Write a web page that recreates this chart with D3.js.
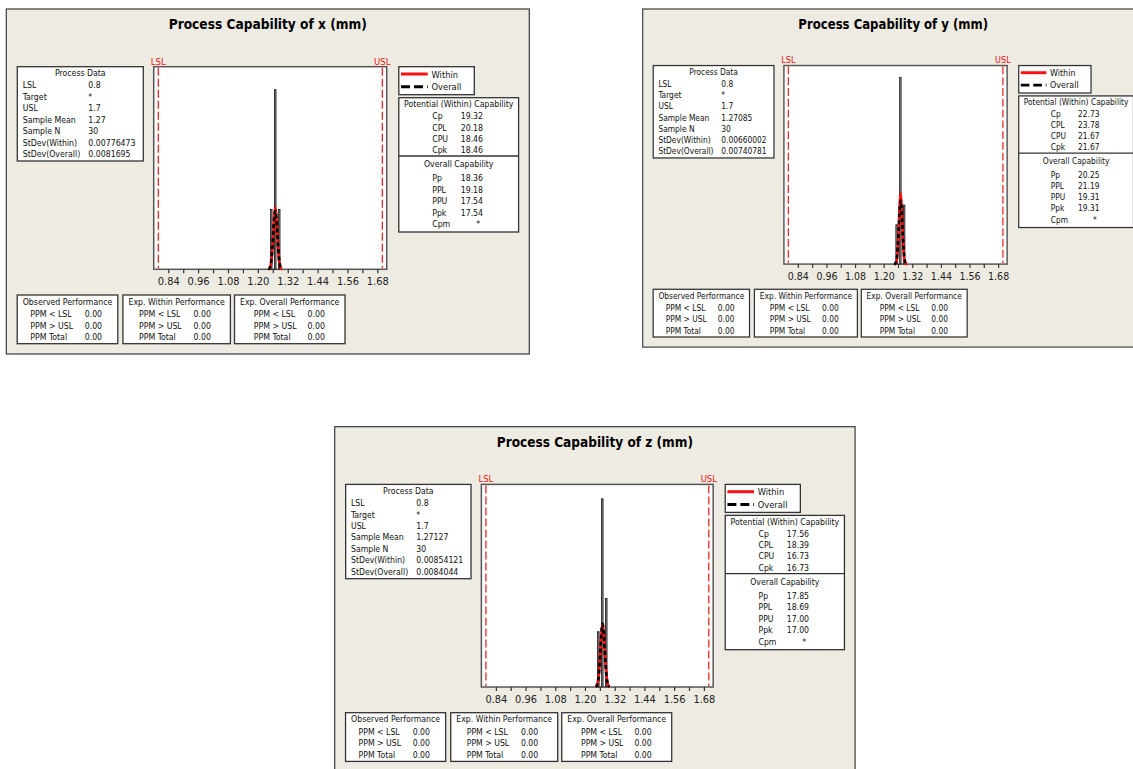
<!DOCTYPE html>
<html><head><meta charset="utf-8">
<script src="https://cdn.jsdelivr.net/npm/d3@7"></script>
<style>
html,body{margin:0;padding:0;background:#fff;}
svg{display:block;}
text{font-family:"DejaVu Sans Condensed","DejaVu Sans",sans-serif;font-stretch:condensed;}
</style></head><body>
<svg id="chart" width="1133" height="769"></svg>
<script>
// ---------------- DATA ----------------
const titles = ["Process Capability of x (mm)", "Process Capability of y (mm)", "Process Capability of z (mm)"];
const specLimits = [0.8, 1.7];
const specLabels = ["LSL", "USL"];
const axisTicks = [0.84, 0.90, 0.96, 1.02, 1.08, 1.14, 1.20, 1.26, 1.32, 1.38, 1.44, 1.50, 1.56, 1.62, 1.68];
const axisTickLabels = [0.84, 0.96, 1.08, 1.20, 1.32, 1.44, 1.56, 1.68];

const binCenters = [1.254, 1.270, 1.286];
const countsX = [6, 18, 6];
const countsY = [4, 19, 6];
const countsZ = [5, 17, 8];
const countAxisMax = [20.3, 20.2, 18.3];

const curveGridX = [1.242, 1.246, 1.250, 1.254, 1.258, 1.262, 1.266, 1.270, 1.274, 1.278, 1.282, 1.286, 1.290, 1.294, 1.298];
const withinCurveX = [0.01, 0.05, 0.22, 0.74, 1.87, 3.63, 5.40, 6.17, 5.40, 3.63, 1.87, 0.74, 0.22, 0.05, 0.01];
const overallCurveX = [0.02, 0.08, 0.29, 0.86, 1.99, 3.63, 5.20, 5.86, 5.20, 3.63, 1.99, 0.86, 0.29, 0.08, 0.02];
const curveGridY = [1.243, 1.247, 1.251, 1.255, 1.259, 1.263, 1.267, 1.271, 1.275, 1.279, 1.283, 1.287, 1.291, 1.295, 1.299];
const withinCurveY = [0.00, 0.01, 0.07, 0.38, 1.39, 3.48, 6.03, 7.25, 6.03, 3.48, 1.39, 0.38, 0.07, 0.01, 0.00];
const overallCurveY = [0.01, 0.03, 0.17, 0.63, 1.74, 3.61, 5.58, 6.46, 5.58, 3.61, 1.74, 0.63, 0.17, 0.03, 0.01];
const curveGridZ = [1.243, 1.247, 1.251, 1.255, 1.259, 1.263, 1.267, 1.271, 1.275, 1.279, 1.283, 1.287, 1.291, 1.295, 1.299];
const withinCurveZ = [0.03, 0.11, 0.36, 0.97, 2.09, 3.62, 5.03, 5.61, 5.03, 3.62, 2.09, 0.97, 0.36, 0.11, 0.03];
const overallCurveZ = [0.02, 0.10, 0.34, 0.93, 2.06, 3.62, 5.09, 5.70, 5.09, 3.62, 2.06, 0.93, 0.34, 0.10, 0.02];

const processLabels = ["LSL", "Target", "USL", "Sample Mean", "Sample N", "StDev(Within)", "StDev(Overall)"];
const processX = ["0.8", "*", "1.7", "1.27", "30", "0.00776473", "0.0081695"];
const processY = ["0.8", "*", "1.7", "1.27085", "30", "0.00660002", "0.00740781"];
const processZ = ["0.8", "*", "1.7", "1.27127", "30", "0.00854121", "0.0084044"];

const potentialLabels = ["Cp", "CPL", "CPU", "Cpk"];
const potentialX = ["19.32", "20.18", "18.46", "18.46"];
const potentialY = ["22.73", "23.78", "21.67", "21.67"];
const potentialZ = ["17.56", "18.39", "16.73", "16.73"];

const overallLabels = ["Pp", "PPL", "PPU", "Ppk", "Cpm"];
const overallX = ["18.36", "19.18", "17.54", "17.54", "*"];
const overallY = ["20.25", "21.19", "19.31", "19.31", "*"];
const overallZ = ["17.85", "18.69", "17.00", "17.00", "*"];

const legendLabels = ["Within", "Overall"];
const perfTitles = ["Observed Performance", "Exp. Within Performance", "Exp. Overall Performance"];
const perfLabels = ["PPM < LSL", "PPM > USL", "PPM Total"];
const perfX = [["0.00", "0.00", "0.00"], ["0.00", "0.00", "0.00"], ["0.00", "0.00", "0.00"]];
const perfY = [["0.00", "0.00", "0.00"], ["0.00", "0.00", "0.00"], ["0.00", "0.00", "0.00"]];
const perfZ = [["0.00", "0.00", "0.00"], ["0.00", "0.00", "0.00"], ["0.00", "0.00", "0.00"]];

// ---------------- LAYOUT ----------------
const panels = [
  {tx: 6.3, ty: 9, sx: 1, sy: 1, counts: countsX, grid: curveGridX, within: withinCurveX, overall: overallCurveX,
   proc: processX, pot: potentialX, ovr: overallX, perf: perfX},
  {tx: 642.7, ty: 9, sx: 0.958, sy: 0.98, counts: countsY, grid: curveGridY, within: withinCurveY, overall: overallCurveY,
   proc: processY, pot: potentialY, ovr: overallY, perf: perfY},
  {tx: 334.7, ty: 426.7, sx: 0.995, sy: 1.0, counts: countsZ, grid: curveGridZ, within: withinCurveZ, overall: overallCurveZ,
   proc: processZ, pot: potentialZ, ovr: overallZ, perf: perfZ}
];
const PW = 523, PH = 345;
const PL = 147.4, PR = 380.4, PT = 57.7, PB = 260.3;
const BG = "#eeebe2";
const FS = 8.7;

const svg = d3.select("#chart");

function txt(g, x, y, s, o = {}) {
  return g.append("text").attr("x", x).attr("y", y).text(s)
    .attr("font-size", o.size || FS)
    .attr("font-weight", o.weight || "normal")
    .attr("fill", o.fill || "#111")
    .attr("text-anchor", o.anchor || "start")
    .attr("dominant-baseline", "central");
}
function box(g, x0, y0, x1, y1) {
  g.append("rect").attr("x", x0).attr("y", y0).attr("width", x1 - x0).attr("height", y1 - y0)
    .attr("fill", "#fff").attr("stroke", "#333").attr("stroke-width", 1.3);
}

panels.forEach((p, i) => {
  const g = svg.append("g").attr("transform", `translate(${p.tx},${p.ty}) scale(${p.sx},${p.sy})`);
  g.append("rect").attr("x", 0).attr("y", 0).attr("width", PW).attr("height", PH)
    .attr("fill", BG).attr("stroke", "#3a3a3a").attr("stroke-width", 1.2);
  g.append("text").attr("x", PW / 2).attr("y", 20.3).text(titles[i])
    .attr("text-anchor", "middle").attr("font-size", 13.6).attr("font-weight", "bold").attr("fill", "#000");

  const x = d3.scaleLinear().domain(specLimits).range([152, 376]);
  const y = d3.scaleLinear().domain([0, countAxisMax[i]]).range([PB, PT]);

  // plot area
  g.append("rect").attr("x", PL).attr("y", PT).attr("width", PR - PL).attr("height", PB - PT)
    .attr("fill", "#fff").attr("stroke", "#555").attr("stroke-width", 1.5);

  // axis
  const labelSet = new Set(axisTickLabels.map(v => v.toFixed(2)));
  const ax = g.append("g").attr("transform", `translate(0,${PB})`)
    .call(d3.axisBottom(x).tickValues(axisTicks).tickSize(4).tickPadding(4)
      .tickFormat(d => labelSet.has(d.toFixed(2)) ? d.toFixed(2) : ""));
  ax.select(".domain").remove();
  ax.selectAll(".tick line").attr("stroke", "#333").attr("stroke-width", 1.2);
  ax.selectAll(".tick text").attr("font-size", 11).attr("fill", "#222")
    .attr("font-family", "'DejaVu Sans Condensed','DejaVu Sans',sans-serif");

  // spec limit lines
  specLimits.forEach((v, k) => {
    g.append("line").attr("x1", x(v)).attr("x2", x(v)).attr("y1", PT + 1).attr("y2", PB - 1)
      .attr("stroke", "#ee1111").attr("stroke-width", 1.2).attr("stroke-dasharray", "8,3");
    txt(g, x(v), 52, specLabels[k], {size: 9.5, anchor: "middle", fill: "#ee1111"});
  });

  // histogram bars
  const bw = 0.006;
  g.selectAll(".bar").data(binCenters.map((c, k) => ({c, n: p.counts[k]}))).enter()
    .append("rect").attr("class", "bar")
    .attr("x", d => x(d.c - bw / 2)).attr("width", d => x(d.c + bw / 2) - x(d.c - bw / 2))
    .attr("y", d => y(d.n)).attr("height", d => y(0) - y(d.n))
    .attr("fill", "#8a8a8a").attr("stroke", "#111").attr("stroke-width", 0.8);

  // fitted curves
  const line = d3.line().x(d => x(d[0])).y(d => y(d[1])).curve(d3.curveMonotoneX);
  g.append("path").datum(p.grid.map((v, k) => [v, p.within[k]])).attr("d", line)
    .attr("fill", "none").attr("stroke", "#ff1010").attr("stroke-width", 2.7);
  g.append("path").datum(p.grid.map((v, k) => [v, p.overall[k]])).attr("d", line)
    .attr("fill", "none").attr("stroke", "#000").attr("stroke-width", 2.7).attr("stroke-dasharray", "4,3");

  // process data box
  box(g, 11, PT, 137, 152);
  txt(g, 74, 64, "Process Data", {anchor: "middle"});
  processLabels.forEach((l, k) => {
    const yy = 76.3 + k * 11.5;
    txt(g, 16.4, yy, l);
    txt(g, 82, yy, p.proc[k]);
  });

  // legend
  box(g, 392.5, PT, 468, 85.7);
  g.append("line").attr("x1", 394.7).attr("x2", 421.4).attr("y1", 65).attr("y2", 65)
    .attr("stroke", "#ff1010").attr("stroke-width", 3);
  g.append("line").attr("x1", 394.7).attr("x2", 421.4).attr("y1", 77.7).attr("y2", 77.7)
    .attr("stroke", "#000").attr("stroke-width", 3).attr("stroke-dasharray", "9,4");
  txt(g, 425.2, 65, legendLabels[0], {size: 9.3});
  txt(g, 425.2, 77.7, legendLabels[1], {size: 9.3});

  // capability box
  box(g, 392.5, 88.7, 512.3, 223);
  g.append("line").attr("x1", 392.5).attr("x2", 512.3).attr("y1", 147).attr("y2", 147)
    .attr("stroke", "#333").attr("stroke-width", 1.3);
  txt(g, 452.4, 95, "Potential (Within) Capability", {anchor: "middle"});
  potentialLabels.forEach((l, k) => {
    const yy = 107.3 + k * 11.2;
    txt(g, 425.9, yy, l);
    txt(g, 454.4, yy, p.pot[k]);
  });
  txt(g, 452.4, 155, "Overall Capability", {anchor: "middle"});
  overallLabels.forEach((l, k) => {
    const yy = 169 + k * 11.5;
    txt(g, 425.9, yy, l);
    const v = p.ovr[k];
    txt(g, v === "*" ? 470 : 454.4, yy, v);
  });

  // performance boxes
  const pbx = [[10.9, 111.5, 24, 78.4], [116.6, 224.1, 132.7, 187.2], [228.2, 338.7, 247.5, 301.2]];
  pbx.forEach((b, j) => {
    box(g, b[0], 286, b[1], 334.7);
    txt(g, (b[0] + b[1]) / 2, 292.7, perfTitles[j], {anchor: "middle"});
    perfLabels.forEach((l, k) => {
      const yy = 305 + k * 11.6;
      txt(g, b[2], yy, l);
      txt(g, b[3], yy, p.perf[j][k]);
    });
  });
});
</script>
</body></html>
